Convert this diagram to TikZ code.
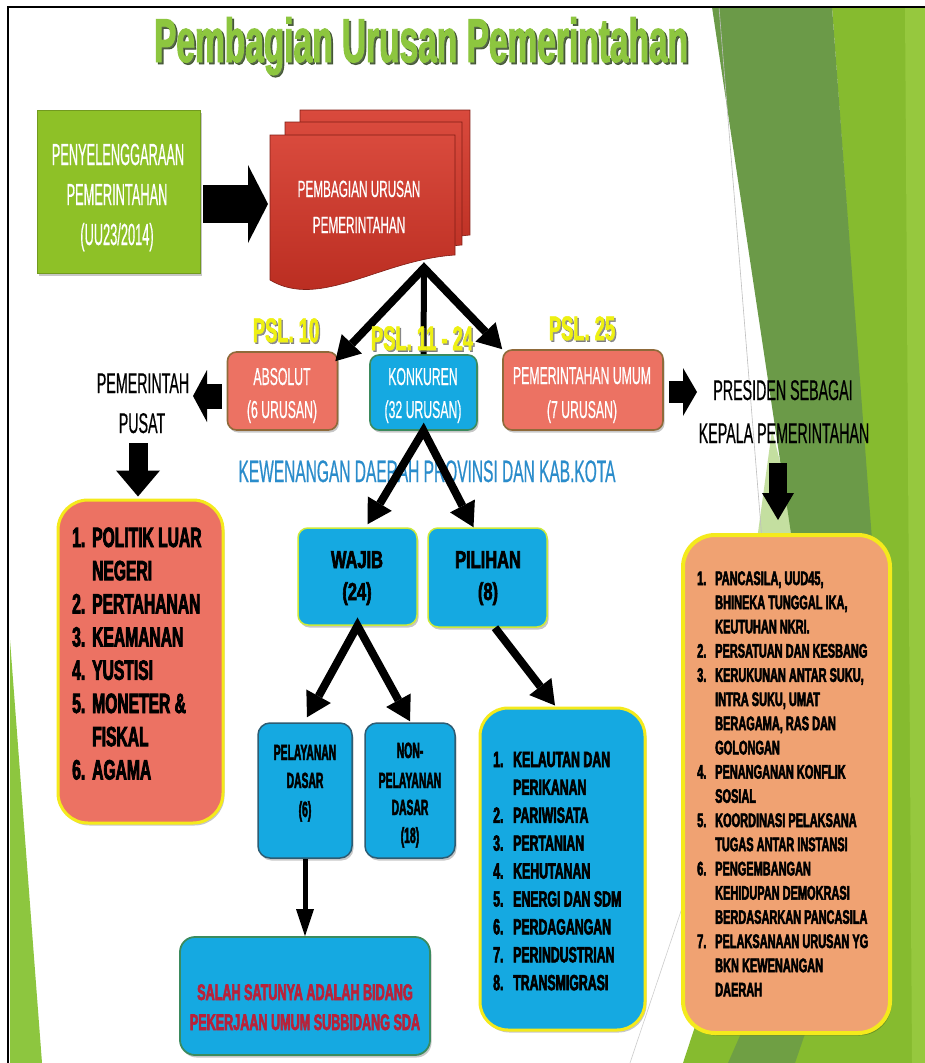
\documentclass[tikz,border=0pt]{standalone}
\usepackage{fontspec}
\setmainfont{Liberation Sans}
\newfontfamily\ttlfont[FakeStretch=0.54, FakeBold=1.5]{Liberation Sans}
\newfontfamily\thinA[FakeStretch=0.42, FakeBold=0.5]{Liberation Sans}
\newfontfamily\thinB[FakeStretch=0.50, FakeBold=0.5]{Liberation Sans}
\newfontfamily\heavyA[FakeStretch=0.56, FakeBold=2.6]{Liberation Sans}
\newfontfamily\heavyN[FakeStretch=0.47, FakeBold=2]{Liberation Sans}
\newfontfamily\heavyW[FakeStretch=0.67, FakeBold=2.4]{Liberation Sans}
\usetikzlibrary{arrows.meta,shadows,calc}

\definecolor{leaf}{HTML}{8DC63F}
\definecolor{leafdark}{HTML}{6B9A48}
\definecolor{leafmid}{HTML}{86BB2F}
\definecolor{leaflight}{HTML}{96C83E}
\definecolor{leafpale}{HTML}{C4DFA0}
\definecolor{boxgreen}{HTML}{8EC127}
\definecolor{redtop}{HTML}{D94A3D}
\definecolor{redbot}{HTML}{B72A1E}
\definecolor{coral}{HTML}{EC7263}
\definecolor{coralrim}{HTML}{8F6A3A}
\definecolor{sky}{HTML}{15A9E1}
\definecolor{peach}{HTML}{F0A272}
\definecolor{lemon}{HTML}{F4EA1C}
\definecolor{lime}{HTML}{CDEA3A}
\definecolor{tealrim}{HTML}{3B8B5E}
\definecolor{slate}{HTML}{2D5C73}
\definecolor{pslyellow}{HTML}{EEF012}
\definecolor{kewblue}{HTML}{2A8CCB}
\definecolor{crimson}{HTML}{B8223A}

\tikzset{
  card/.style={rounded corners=#1, inner sep=0pt,
    general shadow={shadow xshift=1.5pt, shadow yshift=-2.5pt, fill=black, opacity=0.22}},
  lbl/.style={inner sep=0pt, anchor=base},
  lblw/.style={inner sep=0pt, anchor=base west},
  fat/.style n args={3}{line width=#1pt,
    -{Triangle[length=#3pt, width=#2pt, line width=0pt]}},
  fan/.style={line width=8pt, line join=miter,
    {Triangle[length=24pt, width=28pt, line width=0pt]}-{Triangle[length=24pt, width=28pt, line width=0pt]}},
  fanone/.style={line width=8pt,
    -{Triangle[length=24pt, width=28pt, line width=0pt]}},
}

\begin{document}
\begin{tikzpicture}[x=1pt,y=-1pt]
\useasboundingbox (0,0) rectangle (925,1063);
\fill[white] (0,0) rectangle (925,1063);

% decorative facets on the right and left edges
\fill[leafmid] (832,7) -- (925,7) -- (925,1063) -- (683,1063) -- (868,500) -- cycle;
\fill[leaflight] (905,7) -- (925,7) -- (925,1063) -- (912,1063) -- cycle;
\fill[leafpale] (772,430) -- (800,540) -- (757,540) -- cycle;
\fill[leafdark] (712,7) -- (832,7) -- (872,540) -- (792,540) -- cycle;
\fill[leafdark!85!leafmid] (728,1063) -- (795,1063) -- (820,990) -- (760,990) -- cycle;
\draw[black!25, line width=0.6pt] (719,7) -- (762,540);
\draw[black!20, line width=0.6pt] (683,905) -- (630,1063);
\fill[leaf] (10,640) -- (42,1063) -- (10,1063) -- cycle;

% frame
\draw[line width=2pt] (8,1063) -- (8,7) -- (925,7);

% title
\node[lbl, text=black!55!leafdark, opacity=0.8] (ttlsh) at (423,64)
  {\ttlfont\bfseries\fontsize{62}{70}\selectfont Pembagian Urusan Pemerintahan};
\node[lbl, text=leaf] (ttl) at (421,62)
  {\ttlfont\bfseries\fontsize{62}{70}\selectfont Pembagian Urusan Pemerintahan};

% source box
\node[card=0pt, fill=boxgreen, draw=boxgreen!80!black, line width=0.8pt,
  minimum width=163pt, minimum height=163pt] (pen) at (118.5,191.5) {};
\begin{scope}[every node/.style={lbl, text=white, font=\thinA\fontsize{30.5}{34}\selectfont}]
  \node (pen1) at (118,165) {PENYELENGGARAAN};
  \node (pen2) at (117,205) {PEMERINTAHAN};
  \node (pen3) at (117,245) {(UU23/2014)};
\end{scope}

% stacked document shape
\begin{scope}[line width=0.6pt]
  \shade[top color=redtop, bottom color=redbot, draw=redbot!70!black]
    (300,110) -- (470,110) -- (470,235) .. controls (410,240) and (350,285) .. (300,262) -- cycle;
  \shade[top color=redtop, bottom color=redbot, draw=redbot!70!black]
    (285,122) -- (462,122) -- (462,245) .. controls (395,250) and (335,297) .. (285,272) -- cycle;
  \shade[top color=redtop, bottom color=redbot, draw=redbot!70!black]
    (270,135) -- (455,135) -- (455,255) .. controls (380,260) and (320,310) .. (270,280) -- cycle;
\end{scope}
\coordinate (redL) at (268,204);
\coordinate (apex) at (424,268);
\begin{scope}[every node/.style={lbl, text=white, font=\thinB\fontsize{23.5}{26}\selectfont}]
  \node (pub1) at (359,197) {PEMBAGIAN URUSAN};
  \node (pub2) at (359,233) {PEMERINTAHAN};
\end{scope}

% first row of categories
\node[card=9pt, fill=coral, draw=coralrim, line width=1.6pt,
  minimum width=110pt, minimum height=78pt] (absolut) at (282.5,391) {};
\node[card=9pt, fill=sky, draw=tealrim, line width=1.6pt,
  minimum width=107pt, minimum height=75pt] (konkuren) at (423.5,392.5) {};
\node[card=9pt, fill=coral, draw=coralrim, line width=1.6pt,
  minimum width=160pt, minimum height=80pt] (umum) at (583,390) {};
\begin{scope}[every node/.style={lbl, text=white, font=\thinB\fontsize{24.5}{27}\selectfont}]
  \node (abs1) at (282,385) {ABSOLUT};
  \node (abs2) at (282,418) {(6 URUSAN)};
  \node (kon1) at (423,385) {KONKUREN};
  \node (kon2) at (423,418) {(32 URUSAN)};
  \node (umu1) at (582,384) {PEMERINTAHAN UMUM};
  \node (umu2) at (582,418) {(7 URUSAN)};
\end{scope}

% side captions
\begin{scope}[every node/.style={lbl, text=black, font=\thinB\fontsize{28.5}{31}\selectfont}]
  \node (pus1) at (143,393) {PEMERINTAH};
  \node (pus2) at (142,433) {PUSAT};
  \node (pre1) at (783,400) {PRESIDEN SEBAGAI};
  \node (pre2) at (784,443) {KEPALA PEMERINTAHAN};
\end{scope}
\node[lbl, text=kewblue, font=\thinB\fontsize{31}{34}\selectfont] (kew) at (427,482)
  {KEWENANGAN DAERAH PROVINSI DAN KAB.KOTA};
\coordinate (pusR) at (193,396);
\coordinate (pusB) at (138,443);
\coordinate (preL) at (697,392);
\coordinate (preB) at (778,463);

% second and third rows
\node[card=10pt, fill=sky, draw=lime, line width=1.5pt,
  minimum width=119pt, minimum height=97pt] (wajib) at (357.5,576.5) {};
\node[card=10pt, fill=sky, draw=lime, line width=1.5pt,
  minimum width=119pt, minimum height=99pt] (pilihan) at (487.5,577.5) {};
\begin{scope}[every node/.style={lbl, text=black, font=\heavyW\bfseries\fontsize{24.5}{27}\selectfont}]
  \node (waj1) at (357,568) {WAJIB};
  \node (waj2) at (357,600) {(24)};
  \node (pil1) at (488,568) {PILIHAN};
  \node (pil2) at (488,600) {(8)};
\end{scope}
\node[card=12pt, fill=sky, draw=slate, line width=1.5pt,
  minimum width=94pt, minimum height=135pt] (pel) at (305,790.5) {};
\node[card=12pt, fill=sky, draw=slate, line width=1.5pt,
  minimum width=90pt, minimum height=135pt] (nonpel) at (410,790.5) {};
\begin{scope}[every node/.style={lbl, text=black, font=\heavyN\bfseries\fontsize{22}{24}\selectfont}]
  \node (pel1) at (305,760) {PELAYANAN};
  \node (pel2) at (305,788) {DASAR};
  \node (pel3) at (305,817) {(6)};
  \node (non1) at (410,758) {NON-};
  \node (non2) at (410,788) {PELAYANAN};
  \node (non3) at (410,815) {DASAR};
  \node (non4) at (410,843) {(18)};
\end{scope}

% list boxes
\node[card=30pt, fill=coral, draw=lemon, line width=3pt,
  minimum width=165pt, minimum height=323pt] (leftlist) at (140.5,661.5) {};
\node[card=28pt, fill=sky, draw=lemon, line width=3pt,
  minimum width=165pt, minimum height=322pt] (pillist) at (562.5,869) {};
\node[card=32pt, fill=peach, draw=lemon, line width=4pt,
  minimum width=207pt, minimum height=498pt] (rightlist) at (786.5,784) {};
\node[card=15pt, fill=sky, draw=tealrim, line width=1.8pt,
  minimum width=250pt, minimum height=118pt] (salah) at (305,996) {};

\begin{scope}[every node/.style={lblw, text=black, font=\heavyA\bfseries\fontsize{27.9}{30}\selectfont}]
  \foreach \n/\t [count=\i] in {1./POLITIK LUAR, /NEGERI, 2./PERTAHANAN, 3./KEAMANAN,
      4./YUSTISI, 5./MONETER \&, /FISKAL, 6./AGAMA} {
    \node (ln\i) at (72,{547+33.2*(\i-1)}) {\n};
    \node (lt\i) at (92,{547+33.2*(\i-1)}) {\t};
  }
\end{scope}
\begin{scope}[every node/.style={lblw, text=black, font=\heavyA\bfseries\fontsize{22}{24}\selectfont}]
  \foreach \n/\t [count=\i] in {1./KELAUTAN DAN, /PERIKANAN, 2./PARIWISATA, 3./PERTANIAN,
      4./KEHUTANAN, 5./ENERGI DAN SDM, 6./PERDAGANGAN, 7./PERINDUSTRIAN, 8./TRANSMIGRASI} {
    \node (pn\i) at (493,{767+27.9*(\i-1)}) {\n};
    \node (pt\i) at (513,{767+27.9*(\i-1)}) {\t};
  }
\end{scope}
\begin{scope}[every node/.style={lblw, text=black, font=\heavyA\bfseries\fontsize{19.6}{22}\selectfont}]
  \foreach \n/\t [count=\i] in {1./{PANCASILA, UUD45,}, /{BHINEKA TUNGGAL IKA,}, /KEUTUHAN NKRI.,
      2./PERSATUAN DAN KESBANG, 3./{KERUKUNAN ANTAR SUKU,}, /{INTRA SUKU, UMAT},
      /{BERAGAMA, RAS DAN}, /GOLONGAN, 4./PENANGANAN KONFLIK, /SOSIAL,
      5./KOORDINASI PELAKSANA, /TUGAS ANTAR INSTANSI, 6./PENGEMBANGAN,
      /KEHIDUPAN DEMOKRASI, /BERDASARKAN PANCASILA, 7./PELAKSANAAN URUSAN YG,
      /BKN KEWENANGAN, /DAERAH} {
    \node (rn\i) at (697,{585+24.2*(\i-1)}) {\n};
    \node (rt\i) at (715,{585+24.2*(\i-1)}) {\t};
  }
\end{scope}
\begin{scope}[every node/.style={lbl, text=crimson, font=\heavyA\bfseries\fontsize{22.5}{24}\selectfont}]
  \node (sal1) at (305,1000) {SALAH SATUNYA ADALAH BIDANG};
  \node (sal2) at (305,1030) {PEKERJAAN UMUM SUBBIDANG SDA};
\end{scope}

% connectors
\draw[fat={38}{78}{20}] ($(pen.east)+(3,12.5)$) -- (redL);
\draw[fan] ($(absolut.north east)+(-3,10)$) -- (apex) -- (umum.north west);
\draw[line width=6pt] (apex) -- (konkuren.north);
\draw[fat={25}{52}{14}] ($(absolut.west)+(-5,5)$) -- (pusR);
\draw[fat={19}{44}{26}] (pusB) -- ($(leftlist.north)+(-2.5,-2)$);
\draw[fat={22}{48}{14}] ($(umum.east)+(5,2)$) -- (preL);
\draw[fat={18}{32}{27}] (preB) -- ($(rightlist.north)+(-8.5,-13)$);
\draw[fan] ($(wajib.north)+(10,-3)$) -- (konkuren.south) -- ($(pilihan.north)+(-14,0)$);
\draw[fan] ($(pel.north)+(2,-5)$) -- (wajib.south) -- ($(nonpel.north)+(0,-1)$);
\draw[fanone] ($(pilihan.south)+(7.5,0)$) -- ($(pillist.north)+(-7.5,-1)$);
\draw[line width=5pt, -{Triangle[length=27pt, width=18pt, line width=0pt]}] (pel.south) -- (salah.north);

% article labels
\begin{scope}[every node/.style={lbl, font=\ttlfont\bfseries\fontsize{34}{36}\selectfont}]
  \node[text=black!60, opacity=0.7] (psa') at (287.5,343.5) {PSL. 10};
  \node[text=pslyellow] (psa) at (286,342) {PSL. 10};
  \node[text=black!60, opacity=0.7] (psb') at (423.5,351.5) {PSL. 11 - 24};
  \node[text=pslyellow] (psb) at (422,350) {PSL. 11 - 24};
  \node[text=black!60, opacity=0.7] (psc') at (583.5,341.5) {PSL. 25};
  \node[text=pslyellow] (psc) at (582,340) {PSL. 25};
\end{scope}
\end{tikzpicture}
\end{document}
